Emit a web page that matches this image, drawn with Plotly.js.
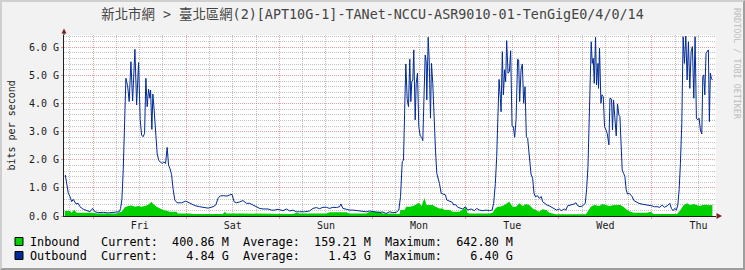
<!DOCTYPE html>
<html><head><meta charset="utf-8">
<script src="https://cdn.plot.ly/plotly-3.0.1.min.js"></script>
<style>
html,body{margin:0;padding:0;background:#F2F2F2;}
#wrap{position:relative;width:745px;height:270px;overflow:hidden;}
#chart{position:absolute;left:0;top:0;width:745px;height:270px;}
#frame{position:absolute;left:0;top:0;width:745px;height:270px;box-sizing:border-box;border-right:2px solid #9E9E9E;border-bottom:2px solid #9E9E9E;border-top:2px solid #CFCFCF;border-left:2px solid #CFCFCF;pointer-events:none;}
</style></head>
<body><div id="wrap"><div id="chart"></div><div id="frame"></div></div>
<script>
// ---- data (time in hours from start of window, values in Gbit/s) ----
const titleText = "新北市網 > 臺北區網(2)[APT10G-1]-TANet-NCCU-ASR9010-01-TenGigE0/4/0/14";
const dayLabels = ["Fri","Sat","Sun","Mon","Tue","Wed","Thu"];
const firstMidnight = 7.5;   // hours after window start
const windowHours = 168;

const outHours = [0.33,0.69,1.11,1.54,1.98,2.39,3.09,3.68,4.12,4.97,5.84,6.69,7.38,7.98,8.83,10.11,11.40,12.68,13.56,14.23,14.59,14.92,15.26,15.62,15.95,16.39,16.80,17.24,17.68,18.27,18.71,19.22,19.63,19.99,20.40,20.76,21.10,21.43,21.79,22.13,22.31,22.64,22.90,23.23,23.59,24.01,24.44,24.88,25.29,25.73,26.17,26.58,26.94,27.27,27.71,28.12,28.56,29.15,30.28,31.39,31.98,32.60,33.71,34.99,36.28,37.13,38.41,39.11,39.70,40.32,41.17,42.02,42.71,43.30,43.82,44.44,45.28,46.13,47.01,47.86,48.71,49.58,50.43,51.28,52.57,53.44,54.29,55.14,56.01,56.43,57.30,58.15,59.00,59.87,60.72,62.01,63.30,64.15,65.02,65.87,66.72,67.59,68.44,69.29,70.17,71.01,71.35,71.86,72.74,73.59,74.44,75.31,76.16,77.01,77.89,78.73,79.58,80.46,81.31,82.16,83.03,83.88,84.73,85.60,86.27,86.71,87.15,87.48,87.82,88.08,88.44,88.77,89.10,89.36,89.62,89.88,90.13,90.49,90.75,91.08,91.42,91.78,92.19,92.45,92.81,93.07,93.32,93.48,93.84,94.10,94.43,94.69,95.02,95.38,95.72,96.05,96.41,96.74,97.18,97.77,98.29,98.62,99.32,100.01,100.42,100.86,101.45,102.07,102.74,103.43,104.02,104.90,105.75,106.34,107.04,107.89,108.76,109.61,110.30,110.71,111.15,111.49,111.85,112.10,112.44,112.62,112.95,113.21,113.55,113.80,114.06,114.42,114.76,115.09,115.45,115.79,116.12,116.48,116.89,117.15,117.41,117.77,118.10,118.44,118.80,119.13,119.47,119.90,120.34,120.75,121.11,121.45,122.04,122.47,122.99,123.32,123.84,124.46,125.05,125.74,126.33,126.93,127.62,128.14,128.91,129.34,129.76,130.63,131.48,131.92,132.33,132.95,133.62,134.31,134.65,135.01,135.34,135.60,135.85,136.11,136.37,136.63,136.96,137.22,137.58,137.73,137.99,138.35,138.61,138.95,139.28,139.64,139.97,140.41,140.67,141.08,141.34,141.60,141.96,142.29,142.62,142.98,143.24,143.50,143.83,144.17,144.53,144.86,145.20,145.63,145.97,146.40,146.84,147.51,148.13,148.98,149.83,150.70,151.55,152.14,152.84,153.53,154.12,154.71,155.41,156.10,156.51,156.95,157.39,157.80,158.16,158.50,158.83,159.19,159.53,159.86,160.22,160.56,160.89,161.25,161.59,161.92,162.28,162.61,162.95,163.31,163.64,163.98,164.34,164.60,164.85,165.11,165.44,165.70,166.04,166.29,166.55,166.81,167.07];
const outboundG = [1.46,1.22,0.81,0.69,0.51,0.59,0.43,0.45,0.33,0.24,0.18,0.15,0.27,0.15,0.12,0.13,0.11,0.12,0.12,0.15,0.27,0.59,1.64,3.65,4.90,4.63,4.07,5.49,4.09,5.93,3.95,5.46,3.44,2.88,2.82,2.94,4.90,3.89,4.51,4.19,4.48,3.08,4.34,3.77,2.82,2.21,1.97,1.90,1.87,1.92,1.87,2.44,1.81,1.70,1.48,0.95,0.57,0.47,0.47,0.53,0.49,0.43,0.37,0.33,0.31,0.28,0.33,0.39,0.63,0.72,0.72,0.71,0.75,0.77,0.51,0.47,0.50,0.55,0.45,0.45,0.39,0.33,0.27,0.25,0.25,0.21,0.21,0.24,0.21,0.19,0.25,0.18,0.21,0.15,0.15,0.15,0.18,0.27,0.30,0.26,0.31,0.31,0.27,0.31,0.30,0.33,0.43,0.27,0.24,0.21,0.21,0.19,0.18,0.17,0.15,0.18,0.15,0.14,0.13,0.14,0.09,0.15,0.12,0.13,0.21,0.69,1.93,1.99,4.01,5.41,4.13,3.89,5.58,4.07,4.78,4.84,5.91,3.42,4.72,5.08,3.18,2.85,2.80,2.68,4.48,5.73,5.49,4.13,6.36,5.55,3.48,5.43,4.72,3.06,2.35,1.52,1.34,1.16,0.81,0.77,0.75,0.57,0.53,0.49,0.39,0.41,0.31,0.27,0.25,0.33,0.21,0.25,0.19,0.27,0.21,0.19,0.21,0.19,0.21,0.45,1.16,2.11,4.48,4.86,4.19,3.71,5.85,4.31,5.20,4.78,6.24,5.08,5.14,5.88,3.20,3.18,2.80,3.42,5.58,5.55,4.07,5.20,5.41,4.01,4.60,2.82,2.76,2.11,1.49,1.34,0.81,0.69,0.72,0.63,0.69,0.51,0.45,0.39,0.36,0.31,0.27,0.21,0.25,0.19,0.25,0.21,0.36,0.39,0.43,0.47,0.37,0.33,0.36,0.45,0.93,1.76,3.65,5.43,6.20,5.43,5.61,4.72,6.36,4.66,5.43,4.54,5.97,4.01,4.31,4.25,3.18,3.06,2.94,2.53,4.19,4.16,3.06,4.13,3.59,2.85,3.99,3.59,3.54,2.82,1.64,1.52,1.40,0.93,0.78,0.81,0.75,0.69,0.55,0.49,0.45,0.42,0.39,0.38,0.36,0.33,0.33,0.31,0.39,0.31,0.36,0.45,0.27,0.19,0.27,0.21,0.39,0.93,1.87,3.30,6.38,5.43,6.40,4.84,6.20,4.54,5.85,6.03,4.19,6.38,3.48,3.42,3.48,3.06,2.92,4.96,5.02,4.31,5.79,5.85,5.91,3.36,5.08,4.90,4.84];

const inHours = [0.18,1.54,1.98,2.57,3.27,4.12,5.84,7.46,8.41,10.99,13.56,13.97,14.85,15.70,16.54,17.42,18.27,19.12,19.99,20.84,21.69,22.57,22.98,23.85,24.70,25.55,26.42,27.27,28.99,29.33,32.42,33.19,37.57,40.91,41.43,41.86,45.28,48.63,49.58,53.00,56.01,59.00,59.87,60.72,67.59,68.44,72.74,73.59,77.89,78.73,81.31,82.16,84.32,86.45,86.71,87.74,88.18,89.03,90.05,91.42,92.11,92.88,93.40,95.02,95.72,96.74,97.59,98.03,99.32,100.17,101.89,103.61,103.95,104.47,109.61,110.46,111.15,111.74,112.13,112.98,113.86,114.76,115.60,116.48,117.33,118.18,119.05,119.90,120.75,121.62,122.47,123.32,124.19,125.05,125.90,126.77,130.19,134.49,134.91,135.76,136.63,137.91,138.76,139.64,140.49,141.78,143.40,144.27,145.12,145.97,146.84,150.26,151.11,151.98,157.98,158.83,159.70,160.56,161.33,162.36,163.64,164.93,166.48,167.07];
const inboundG = [0.18,0.18,0.12,0.21,0.12,0.12,0.12,0.12,0.09,0.09,0.09,0.12,0.15,0.31,0.36,0.37,0.33,0.36,0.33,0.36,0.40,0.51,0.43,0.33,0.27,0.21,0.19,0.15,0.15,0.09,0.09,0.07,0.07,0.07,0.15,0.09,0.09,0.09,0.07,0.07,0.07,0.07,0.12,0.09,0.09,0.13,0.13,0.09,0.09,0.15,0.15,0.09,0.09,0.07,0.21,0.21,0.33,0.33,0.36,0.47,0.36,0.64,0.39,0.39,0.33,0.27,0.27,0.21,0.21,0.15,0.15,0.31,0.12,0.09,0.09,0.12,0.27,0.33,0.33,0.36,0.43,0.51,0.33,0.33,0.45,0.36,0.43,0.39,0.27,0.21,0.15,0.24,0.21,0.12,0.09,0.06,0.06,0.06,0.15,0.33,0.39,0.36,0.43,0.39,0.36,0.39,0.39,0.31,0.21,0.15,0.12,0.12,0.15,0.07,0.07,0.21,0.39,0.45,0.39,0.43,0.36,0.40,0.38,0.40];

const seriesNames = ["Inbound","Outbound"];
const currentVals = ["400.86 M","4.84 G"];
const averageVals = ["159.21 M","1.43 G"];
const maximumVals = ["642.80 M","6.40 G"];
const seriesColors = ["#00CF00","#002A97"];

// ---- build ----
const NB = "\u00A0";
function pad(s,n){ s=String(s); while(s.length<n) s=s+" "; return s; }
function lpad(s,n){ s=String(s); while(s.length<n) s=" "+s; return s; }
function legendLine(i){
  const t = pad(seriesNames[i],10) + "Current:" + lpad(currentVals[i],10) + "  Average:" + lpad(averageVals[i],10) + "  Maximum:" + lpad(maximumVals[i],10);
  return t.replace(/ /g, NB);
}

const midnights = [], noons = [];
for (let d=0; d<7; d++){ midnights.push(firstMidnight+24*d); noons.push(firstMidnight+12+24*d); }

const mono = "DejaVu Sans Mono, Noto Sans CJK TC, monospace";
const gridMinor = "rgba(143,143,143,0.55)";
const gridMajor = "rgba(222,79,79,0.55)";

const traces = [
  {type:"scatter", mode:"lines", x:inHours, y:inboundG, name:seriesNames[0],
   fill:"tozeroy", fillcolor:seriesColors[0], line:{color:seriesColors[0], width:0}, hoverinfo:"skip"},
  {type:"scatter", mode:"lines", x:outHours, y:outboundG, name:seriesNames[1], xaxis:"x2",
   line:{color:seriesColors[1], width:1}, hoverinfo:"skip"}
];

const layout = {
  width:745, height:270,
  margin:{l:64, r:29, t:35, b:54, pad:0},
  paper_bgcolor:"#F2F2F2", plot_bgcolor:"#FFFFFF",
  showlegend:false,
  font:{family:mono, size:10, color:"#000"},
  title:{text:titleText, xref:"container", x:0.5, xanchor:"center", yref:"container", y:1-14/270, yanchor:"middle",
         font:{family:mono, size:13.4, color:"#444"}},
  xaxis:{range:[0,windowHours], tickmode:"linear", tick0:firstMidnight, dtick:24, showticklabels:false,
         showgrid:true, gridcolor:gridMajor, griddash:"1px,1px", gridwidth:1,
         ticks:"outside", ticklen:2, tickcolor:gridMajor,
         showline:true, linecolor:"#1F1F1F", linewidth:1, zeroline:false, fixedrange:true,
         minor:{tickmode:"linear", tick0:firstMidnight-6, dtick:6, showgrid:true, gridcolor:gridMinor, griddash:"1px,1px", ticks:""}},
  xaxis2:{overlaying:"x", matches:"x", range:[0,windowHours], tickmode:"array", tickvals:noons, ticktext:dayLabels,
          showgrid:false, zeroline:false, showline:false, ticks:"", side:"bottom", ticklabelstandoff:2,
          tickfont:{family:mono, size:10, color:"#1a1a1a"}, fixedrange:true},
  yaxis:{range:[0,6.44], tickmode:"linear", tick0:0, dtick:1, tickformat:".1f", ticksuffix:" G",
         tickfont:{family:mono, size:10, color:"#1a1a1a"},
         showgrid:true, gridcolor:gridMajor, griddash:"1px,1px", gridwidth:1,
         ticks:"outside", ticklen:2, tickcolor:gridMajor,
         showline:true, linecolor:"#1F1F1F", linewidth:1, zeroline:false, fixedrange:true,
         minor:{tickmode:"linear", tick0:0, dtick:0.2, showgrid:true, gridcolor:gridMinor, griddash:"1px,1px", ticks:""}},
  shapes:[
    {type:"path", xref:"paper", yref:"paper", xsizemode:"pixel", ysizemode:"pixel", xanchor:0, yanchor:1,
     path:"M -2.5,1.5 L 2.5,1.5 L 0,6.5 Z", fillcolor:"#801F1F", line:{width:0}},
    {type:"path", xref:"paper", yref:"paper", xsizemode:"pixel", ysizemode:"pixel", xanchor:0, yanchor:1,
     path:"M 0,0 L 0,2", line:{color:"#1F1F1F", width:1}},
    {type:"path", xref:"paper", yref:"paper", xsizemode:"pixel", ysizemode:"pixel", xanchor:1, yanchor:0,
     path:"M 0.5,3 L 0.5,-3 L 6,0 Z", fillcolor:"#801F1F", line:{width:0}},
    {type:"rect", xref:"paper", yref:"paper", xsizemode:"pixel", ysizemode:"pixel", xanchor:0, yanchor:0,
     x0:-49, x1:-41, y0:-29.5, y1:-21.5, fillcolor:seriesColors[0], line:{color:"#000", width:1}},
    {type:"rect", xref:"paper", yref:"paper", xsizemode:"pixel", ysizemode:"pixel", xanchor:0, yanchor:0,
     x0:-49, x1:-41, y0:-43.5, y1:-35.5, fillcolor:seriesColors[1], line:{color:"#000", width:1}}
  ],
  annotations:[
    {text:"bits per second", xref:"paper", yref:"paper", x:0, y:0.5, xanchor:"center", yanchor:"middle",
     xshift:-53, textangle:-90, showarrow:false, font:{family:mono, size:10, color:"#1a1a1a"}},
    {text:"RRDTOOL / TOBI OETIKER", xref:"paper", yref:"paper", x:1, y:(216-64)/181, xanchor:"center", yanchor:"middle",
     xshift:21, textangle:90, showarrow:false, font:{family:mono, size:8.4, color:"#BDBDBD"}},
    {text:legendLine(0), xref:"paper", yref:"paper", x:0, y:0, xanchor:"left", yanchor:"middle",
     xshift:-36.5, yshift:-25.5, showarrow:false, font:{family:mono, size:11.8, color:"#000"}},
    {text:legendLine(1), xref:"paper", yref:"paper", x:0, y:0, xanchor:"left", yanchor:"middle",
     xshift:-36.5, yshift:-40, showarrow:false, font:{family:mono, size:11.8, color:"#000"}}
  ]
};

Plotly.newPlot("chart", traces, layout, {staticPlot:true, displayModeBar:false});
</script></body></html>
